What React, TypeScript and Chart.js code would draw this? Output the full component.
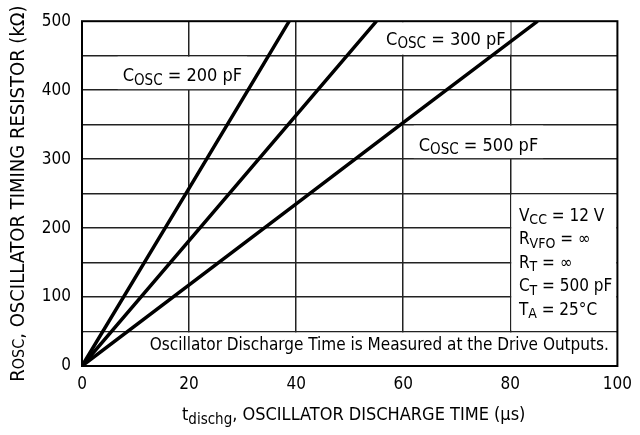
import React, { useEffect, useRef } from 'react';
import { Chart, registerables } from 'chart.js';

Chart.register(...registerables);

// ---- data ----
const cosc200X = [0, 19.4, 31, 38.7];
const cosc200Y = [0, 250, 400, 500];
const cosc300X = [0, 27.5, 44, 55];
const cosc300Y = [0, 250, 400, 500];
const cosc500X = [0, 40, 59.5, 85.1];
const cosc500Y = [0, 235, 350, 500];

const X_MIN = 0;
const X_MAX = 100;
const X_STEP = 20;
const Y_MIN = 0;
const Y_MAX = 500;
const Y_GRID_STEP = 50;
const Y_LABEL_STEP = 100;

type Part = { t: string; sub?: boolean; small?: boolean };

const label200: Part[] = [{ t: 'C' }, { t: 'OSC', sub: true }, { t: ' = 200 pF' }];
const label300: Part[] = [{ t: 'C' }, { t: 'OSC', sub: true }, { t: ' = 300 pF' }];
const label500: Part[] = [{ t: 'C' }, { t: 'OSC', sub: true }, { t: ' = 500 pF' }];
const conditionLines: Part[][] = [
  [{ t: 'V' }, { t: 'CC', sub: true }, { t: ' = 12 V' }],
  [{ t: 'R' }, { t: 'VFO', sub: true }, { t: ' = \u221E' }],
  [{ t: 'R' }, { t: 'T', sub: true }, { t: ' = \u221E' }],
  [{ t: 'C' }, { t: 'T', sub: true }, { t: ' = 500 pF' }],
  [{ t: 'T' }, { t: 'A', sub: true }, { t: ' = 25\u00B0C' }],
];
const footerText: Part[] = [{ t: 'Oscillator Discharge Time is Measured at the Drive Outputs.' }];
const xTitle: Part[] = [{ t: 't' }, { t: 'dischg', sub: true }, { t: ', OSCILLATOR DISCHARGE TIME (\u03BCs)' }];
const yTitle: Part[] = [{ t: 'R' }, { t: 'OSC', small: true }, { t: ', OSCILLATOR TIMING RESISTOR (k\u03A9)' }];

function pickFont(): { family: string; scale: number } {
  const c = document.createElement('canvas').getContext('2d')!;
  const test = 'Oscillator DISCHARGE 0123456789';
  c.font = '20px monospace';
  const base = c.measureText(test).width;
  const cands: [string, number][] = [
    ['Liberation Sans Narrow', 1.18],
    ['Arial Narrow', 1.18],
    ['DejaVu Sans Condensed', 1],
  ];
  for (const [f, s] of cands) {
    c.font = `20px "${f}", monospace`;
    if (Math.abs(c.measureText(test).width - base) > 0.5) return { family: `"${f}"`, scale: s };
  }
  return { family: '"Liberation Sans", Arial, sans-serif', scale: 1.03 };
}

export default function App() {
  const ref = useRef<HTMLCanvasElement | null>(null);

  useEffect(() => {
    const canvas = ref.current;
    if (!canvas) return;
    const { family, scale } = pickFont();
    const tickSize = 17 * scale;

    const fontOf = (p: Part, size: number) =>
      `${p.sub || p.small ? Math.round(size * 0.82) : size}px ${family}`;

    const richWidth = (ctx: CanvasRenderingContext2D, parts: Part[], size: number) => {
      let w = 0;
      for (const p of parts) {
        ctx.font = fontOf(p, size);
        w += ctx.measureText(p.t).width;
      }
      return w;
    };
    const drawRich = (
      ctx: CanvasRenderingContext2D,
      parts: Part[],
      x: number,
      y: number,
      align: 'left' | 'center' | 'right',
      size: number
    ) => {
      const w = richWidth(ctx, parts, size);
      let cx = align === 'left' ? x : align === 'center' ? x - w / 2 : x - w;
      ctx.textAlign = 'left';
      ctx.textBaseline = 'alphabetic';
      for (const p of parts) {
        ctx.font = fontOf(p, size);
        ctx.fillText(p.t, cx, p.sub ? y + size * 0.2 : y);
        cx += ctx.measureText(p.t).width;
      }
      return w;
    };

    const labelSize = 18 * scale;
    const condSize = 17 * scale;
    const footSize = 17 * scale;
    const xTitleSize = 18 * scale;
    const yTitleSize = 20 * scale;

    // annotation placements (data coords for anchors, bands for white backgrounds)
    const bandLabels = [
      { parts: label200, x: 7.6, y: 413, band: [400, 450] },
      { parts: label300, x: 56.8, y: 466, band: [450, 500] },
      { parts: label500, x: 62.9, y: 312, band: [300, 350] },
    ];

    const decor = {
      id: 'decor',
      beforeDatasetsDraw(chart: any) {
        const { ctx } = chart;
        const xs = chart.scales.x;
        const ys = chart.scales.y;
        ctx.save();
        ctx.fillStyle = '#ffffff';
        // footer band
        ctx.fillRect(
          xs.getPixelForValue(0) + 1.5,
          ys.getPixelForValue(50) + 1,
          xs.getPixelForValue(100) - xs.getPixelForValue(0) - 2.5,
          ys.getPixelForValue(0) - ys.getPixelForValue(50) - 2
        );
        // conditions box
        ctx.fillRect(
          xs.getPixelForValue(80) + 1,
          ys.getPixelForValue(250) + 1,
          xs.getPixelForValue(100) - xs.getPixelForValue(80) - 2,
          ys.getPixelForValue(50) - ys.getPixelForValue(250) - 2
        );
        for (const l of bandLabels) {
          const w = richWidth(ctx, l.parts, labelSize);
          const px = xs.getPixelForValue(l.x);
          const top = ys.getPixelForValue(l.band[1]) + 1;
          const bot = ys.getPixelForValue(l.band[0]) - 1;
          ctx.fillRect(px - 5, top, w + 10, bot - top);
        }
        ctx.restore();
      },
      afterDraw(chart: any) {
        const { ctx, chartArea } = chart;
        const xs = chart.scales.x;
        const ys = chart.scales.y;
        ctx.save();
        // frame
        ctx.strokeStyle = '#000';
        ctx.lineWidth = 2;
        ctx.strokeRect(
          chartArea.left,
          chartArea.top,
          chartArea.right - chartArea.left,
          chartArea.bottom - chartArea.top
        );
        ctx.fillStyle = '#000';
        for (const l of bandLabels) {
          drawRich(ctx, l.parts, xs.getPixelForValue(l.x), ys.getPixelForValue(l.y), 'left', labelSize);
        }
        // conditions
        const cx = xs.getPixelForValue(81.6);
        let cy = ys.getPixelForValue(210.5);
        for (const line of conditionLines) {
          drawRich(ctx, line, cx, cy, 'left', condSize);
          cy += 23.5;
        }
        // footer
        drawRich(ctx, footerText, xs.getPixelForValue(98.4), ys.getPixelForValue(22.8), 'right', footSize);
        // x title
        const midX = (chartArea.left + chartArea.right) / 2;
        drawRich(ctx, xTitle, midX + 4, 420, 'center', xTitleSize);
        // y title
        const midY = (chartArea.top + chartArea.bottom) / 2;
        ctx.translate(24, midY);
        ctx.rotate(-Math.PI / 2);
        drawRich(ctx, yTitle, 0, 0, 'center', yTitleSize);
        ctx.restore();
      },
    };

    const lineStyle = {
      borderColor: '#000',
      borderWidth: 3.5,
      pointRadius: 0,
      fill: false,
      tension: 0,
    };

    const toXY = (xs: number[], ys: number[]) => xs.map((x, i) => ({ x, y: ys[i] }));

    const chart = new Chart(canvas, {
      type: 'line',
      data: {
        datasets: [
          { label: 'COSC = 200 pF', data: toXY(cosc200X, cosc200Y), ...lineStyle },
          { label: 'COSC = 300 pF', data: toXY(cosc300X, cosc300Y), ...lineStyle },
          { label: 'COSC = 500 pF', data: toXY(cosc500X, cosc500Y), ...lineStyle },
        ],
      },
      options: {
        responsive: false,
        animation: false,
        events: [],
        layout: { padding: { left: 0, top: 15.5, right: 16, bottom: 0 } },
        plugins: { legend: { display: false }, tooltip: { enabled: false }, title: { display: false } },
        scales: {
          x: {
            type: 'linear',
            min: X_MIN,
            max: X_MAX,
            afterFit: (s: any) => {
              s.height = 69;
            },
            ticks: {
              stepSize: X_STEP,
              color: '#000',
              font: { family, size: tickSize },
              padding: 8,
              maxRotation: 0,
            },
            grid: {
              drawTicks: false,
              lineWidth: 1.5,
              color: (c: any) =>
                c.tick && (c.tick.value === X_MIN || c.tick.value === X_MAX) ? 'rgba(0,0,0,0)' : '#222',
            },
            border: { display: false },
          },
          y: {
            type: 'linear',
            min: Y_MIN,
            max: Y_MAX,
            afterFit: (s: any) => {
              s.width = 82;
            },
            ticks: {
              stepSize: Y_GRID_STEP,
              autoSkip: false,
              color: '#000',
              font: { family, size: tickSize },
              padding: 11,
              callback: (v: any) => (Number(v) % Y_LABEL_STEP === 0 ? String(v) : ''),
            },
            grid: {
              drawTicks: false,
              lineWidth: 1.5,
              color: (c: any) =>
                c.tick && (c.tick.value === Y_MIN || c.tick.value === Y_MAX) ? 'rgba(0,0,0,0)' : '#222',
            },
            border: { display: false },
          },
        },
      },
      plugins: [decor],
    });
    return () => chart.destroy();
  }, []);

  return (
    <div style={{ position: 'fixed', left: 0, top: 0, width: 640, height: 435, background: '#fff' }}>
      <canvas ref={ref} width={640} height={435} style={{ display: 'block' }} />
    </div>
  );
}
